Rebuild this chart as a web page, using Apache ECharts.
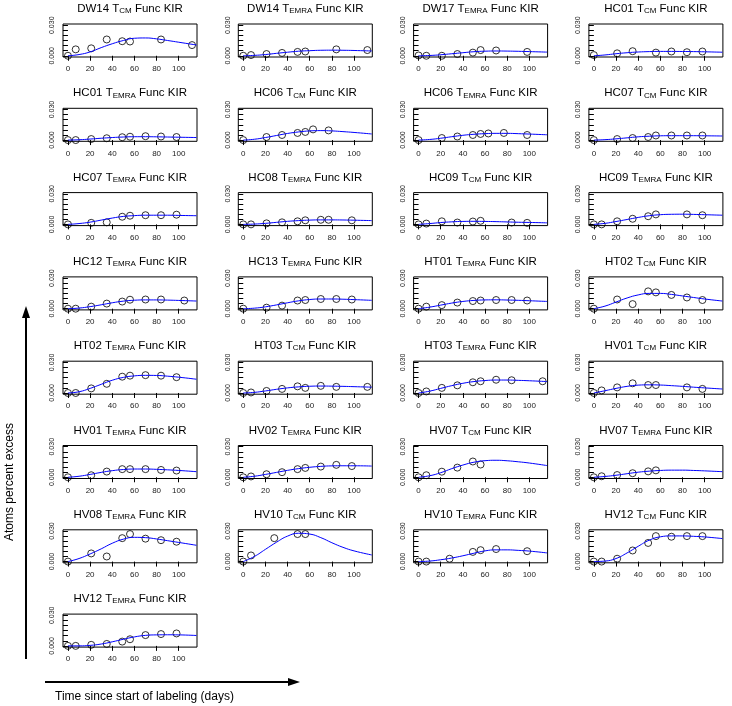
<!DOCTYPE html>
<html>
<head>
<meta charset="utf-8">
<script src="https://cdn.jsdelivr.net/npm/echarts@6/dist/echarts.min.js"></script>
<style>
  html, body { margin: 0; padding: 0; background: #fff; }
  #main { width: 732px; height: 706px; }
</style>
</head>
<body>
<div id="main"></div>
<script>
// panel labels, row by row
const donors = ['DW14', 'DW14', 'DW17', 'HC01', 'HC01', 'HC06', 'HC06', 'HC07',
  'HC07', 'HC08', 'HC09', 'HC09', 'HC12', 'HC13', 'HT01', 'HT02',
  'HT02', 'HT03', 'HT03', 'HV01', 'HV01', 'HV02', 'HV07', 'HV07',
  'HV08', 'HV10', 'HV10', 'HV12', 'HV12']
const subsets = ['CM', 'EMRA', 'EMRA', 'CM', 'EMRA', 'CM', 'EMRA', 'CM',
  'EMRA', 'EMRA', 'CM', 'EMRA', 'EMRA', 'EMRA', 'EMRA', 'CM',
  'EMRA', 'CM', 'EMRA', 'CM', 'EMRA', 'EMRA', 'CM', 'EMRA',
  'EMRA', 'CM', 'EMRA', 'CM', 'EMRA']

// measured points (days, atom percent excess)
const pointDays = [
  [0, 7, 21, 35, 49, 56, 84, 112],
  [0, 7, 21, 35, 49, 56, 84, 112],
  [0, 7, 21, 35, 49, 56, 70, 98],
  [0, 21, 35, 56, 70, 84, 98],
  [0, 7, 21, 35, 49, 56, 70, 84, 98],
  [0, 21, 35, 49, 56, 63, 77],
  [0, 21, 35, 49, 56, 63, 77, 98],
  [0, 21, 35, 49, 56, 70, 84, 98],
  [0, 21, 35, 49, 56, 70, 84, 98],
  [0, 7, 21, 35, 49, 56, 70, 77, 98],
  [0, 7, 21, 35, 49, 56, 84, 98],
  [0, 7, 21, 35, 49, 56, 84, 98],
  [0, 7, 21, 35, 49, 56, 70, 84, 105],
  [0, 21, 35, 49, 56, 70, 84, 98],
  [0, 7, 21, 35, 49, 56, 70, 84, 98],
  [0, 21, 35, 49, 56, 70, 84, 98],
  [0, 7, 21, 35, 49, 56, 70, 84, 98],
  [0, 7, 21, 35, 49, 56, 70, 84, 112],
  [0, 7, 21, 35, 49, 56, 70, 84, 112],
  [0, 7, 21, 35, 49, 56, 84, 98],
  [0, 21, 35, 49, 56, 70, 84, 98],
  [0, 7, 21, 35, 49, 56, 70, 84, 98],
  [0, 7, 21, 35, 49, 56],
  [0, 7, 21, 35, 49, 56],
  [0, 21, 35, 49, 56, 70, 84, 98],
  [0, 7, 28, 49, 56],
  [0, 7, 28, 49, 56, 70, 98],
  [0, 7, 21, 35, 49, 56, 70, 84, 98],
  [0, 7, 21, 35, 49, 56, 70, 84, 98]
]
const pointValues = [
  [0, 0.0063, 0.0073, 0.016, 0.0143, 0.014, 0.016, 0.0105],
  [0, 0.0007, 0.0017, 0.0028, 0.0038, 0.0042, 0.0063, 0.0056],
  [0.0003, 0, 0, 0.0017, 0.0031, 0.0056, 0.0052, 0.0038],
  [0.0007, 0.0024, 0.0045, 0.0031, 0.0042, 0.0035, 0.0042],
  [0, 0, 0.001, 0.0018, 0.0028, 0.0033, 0.0038, 0.0035, 0.003],
  [0, 0.003, 0.005, 0.007, 0.008, 0.0105, 0.0095],
  [0, 0.002, 0.0035, 0.005, 0.006, 0.0065, 0.007, 0.005],
  [0, 0.001, 0.002, 0.003, 0.0045, 0.0045, 0.0045, 0.0045],
  [0, 0.0015, 0.002, 0.0075, 0.0085, 0.009, 0.009, 0.0095],
  [0, 0, 0.001, 0.002, 0.003, 0.004, 0.0045, 0.0045, 0.004],
  [0, 0.0008, 0.003, 0.0018, 0.0028, 0.0035, 0.0018, 0.0015],
  [0, 0, 0.003, 0.0055, 0.008, 0.0098, 0.0098, 0.009],
  [0, 0, 0.002, 0.005, 0.007, 0.0088, 0.009, 0.009, 0.008],
  [0, 0.001, 0.003, 0.008, 0.0085, 0.0095, 0.0095, 0.009],
  [0, 0.002, 0.0035, 0.006, 0.0075, 0.008, 0.0085, 0.0085, 0.008],
  [0, 0.009, 0.0045, 0.017, 0.016, 0.0135, 0.011, 0.0085],
  [0, 0, 0.0045, 0.009, 0.016, 0.017, 0.0175, 0.017, 0.0155],
  [0, 0.0005, 0.002, 0.004, 0.0065, 0.005, 0.007, 0.006, 0.006],
  [0, 0.0015, 0.005, 0.0075, 0.0105, 0.0115, 0.013, 0.0125, 0.0115],
  [0, 0.0025, 0.0055, 0.0095, 0.0078, 0.0078, 0.0055, 0.004],
  [0, 0.002, 0.0056, 0.008, 0.008, 0.008, 0.0072, 0.0066],
  [0, 0.0008, 0.003, 0.005, 0.008, 0.0092, 0.0105, 0.0122, 0.011],
  [0, 0.002, 0.0055, 0.0095, 0.0155, 0.0125],
  [0, 0.001, 0.0022, 0.004, 0.0058, 0.0068],
  [0, 0.008, 0.005, 0.023, 0.027, 0.0225, 0.021, 0.0195],
  [0, 0.006, 0.023, 0.027, 0.027],
  [0, 0, 0.0028, 0.0095, 0.0112, 0.0123, 0.0102],
  [0, 0, 0.0028, 0.0109, 0.0183, 0.025, 0.0244, 0.025, 0.025],
  [0, 0, 0.001, 0.0019, 0.0042, 0.0065, 0.0106, 0.0116, 0.0122]
]

const fitDays = [0, 10, 20, 30, 40, 50, 60, 70, 80, 90, 100, 116]
const fitValues = [
  [0, 0.0012, 0.0038, 0.008, 0.0118, 0.015, 0.0172, 0.0175, 0.0166, 0.015, 0.0133, 0.0106],
  [0, 0.0004, 0.0012, 0.0024, 0.0035, 0.0045, 0.005, 0.0054, 0.0055, 0.0054, 0.0052, 0.0047],
  [0, 0.0003, 0.001, 0.002, 0.003, 0.004, 0.0045, 0.0047, 0.0046, 0.0044, 0.0041, 0.0036],
  [0, 0.0008, 0.002, 0.003, 0.0037, 0.0041, 0.0043, 0.0043, 0.0042, 0.0041, 0.0039, 0.0035],
  [0, 0.0003, 0.001, 0.0018, 0.0025, 0.003, 0.0033, 0.0033, 0.0032, 0.003, 0.0028, 0.0025],
  [0, 0.0008, 0.0025, 0.0045, 0.0065, 0.008, 0.009, 0.0093, 0.009, 0.0083, 0.0075, 0.006],
  [0, 0.0006, 0.0018, 0.0033, 0.0047, 0.0057, 0.0063, 0.0066, 0.0066, 0.0063, 0.0059, 0.0052],
  [0, 0.0004, 0.0012, 0.0022, 0.0032, 0.0038, 0.0042, 0.0043, 0.0043, 0.0043, 0.0042, 0.004],
  [0, 0.0008, 0.0022, 0.0042, 0.0062, 0.0078, 0.0086, 0.009, 0.009, 0.009, 0.0088, 0.0085],
  [0, 0.0003, 0.001, 0.002, 0.003, 0.0037, 0.0042, 0.0044, 0.0044, 0.0043, 0.0041, 0.0037],
  [0, 0.0008, 0.0018, 0.0025, 0.0029, 0.003, 0.0029, 0.0027, 0.0024, 0.0021, 0.0019, 0.0015],
  [0, 0.001, 0.0028, 0.0048, 0.0068, 0.0085, 0.0095, 0.0099, 0.01, 0.0098, 0.0095, 0.009],
  [0, 0.0006, 0.002, 0.0038, 0.0058, 0.0074, 0.0083, 0.0086, 0.0086, 0.0084, 0.0081, 0.0075],
  [0, 0.0005, 0.0018, 0.0037, 0.0058, 0.0077, 0.009, 0.0095, 0.0095, 0.0093, 0.0089, 0.0082],
  [0, 0.0015, 0.0035, 0.0055, 0.0071, 0.0081, 0.0086, 0.0087, 0.0085, 0.0082, 0.0078, 0.0071],
  [0, 0.0025, 0.0065, 0.0105, 0.0135, 0.015, 0.015, 0.014, 0.0125, 0.011, 0.0095, 0.0075],
  [0, 0.0012, 0.0045, 0.0085, 0.0125, 0.0153, 0.0168, 0.0173, 0.0172, 0.0165, 0.0155, 0.0135],
  [0, 0.0006, 0.002, 0.0036, 0.005, 0.006, 0.0066, 0.0068, 0.0067, 0.0065, 0.0062, 0.0057],
  [0, 0.0018, 0.0045, 0.0072, 0.0095, 0.0112, 0.0122, 0.0127, 0.0127, 0.0124, 0.012, 0.0112],
  [0, 0.0022, 0.0045, 0.0065, 0.0077, 0.008, 0.0078, 0.0072, 0.0065, 0.0057, 0.005, 0.0039],
  [0, 0.001, 0.0028, 0.0048, 0.0065, 0.0076, 0.0081, 0.0081, 0.0078, 0.0073, 0.0067, 0.0055],
  [0, 0.001, 0.0028, 0.0048, 0.0068, 0.0085, 0.0098, 0.0107, 0.0112, 0.0113, 0.0113, 0.011],
  [0, 0.0015, 0.0045, 0.0085, 0.012, 0.0148, 0.0163, 0.0167, 0.0162, 0.0152, 0.014, 0.0115],
  [0, 0.0008, 0.002, 0.0035, 0.005, 0.006, 0.0067, 0.007, 0.007, 0.0067, 0.0063, 0.0055],
  [0, 0.003, 0.0075, 0.0125, 0.018, 0.022, 0.0238, 0.0235, 0.0222, 0.0205, 0.0188, 0.016],
  [0, 0.005, 0.012, 0.019, 0.025, 0.0278, 0.027, 0.0235, 0.0185, 0.014, 0.0105, 0.0065],
  [0, 0.0005, 0.0018, 0.0035, 0.0057, 0.0082, 0.0105, 0.0115, 0.0115, 0.011, 0.0103, 0.0085],
  [0, 0.0005, 0.003, 0.0085, 0.015, 0.021, 0.0243, 0.0252, 0.0252, 0.0248, 0.0242, 0.0226],
  [0, 0, 0.0005, 0.0018, 0.004, 0.0065, 0.0088, 0.0103, 0.0108, 0.0109, 0.0108, 0.0102]
]

const xTicks = [0, 20, 40, 60, 80, 100]
const yTicks = [0, 0.005, 0.01, 0.015, 0.02, 0.025, 0.03]
const yLabels = [0, 0.03]

const FONT = 'Liberation Sans, Arial, sans-serif'
let chart = echarts.init(document.getElementById('main'))

let grid = [], xAxis = [], yAxis = [], series = [], graphic = []
donors.forEach((donor, i) => {
  let col = i % 4
  let row = Math.floor(i / 4)
  let left = 63 + col * 175.3
  let top = 24 + row * 84.3
  grid.push({
    left: left, top: top, width: 134, height: 33,
    show: true, borderColor: '#000', borderWidth: 1, backgroundColor: 'transparent'
  })
  xAxis.push({
    type: 'value', gridIndex: i, min: -4.48, max: 116.48,
    axisLine: { show: false },
    splitLine: { show: false },
    axisTick: { show: true, length: 5, customValues: xTicks, lineStyle: { color: '#000' } },
    axisLabel: { customValues: xTicks, fontSize: 8, color: '#222', margin: 8, fontFamily: FONT }
  })
  yAxis.push({
    type: 'value', gridIndex: i, min: -0.0012, max: 0.0312,
    axisLine: { show: false },
    splitLine: { show: false },
    axisTick: { show: true, length: 5, customValues: yTicks, lineStyle: { color: '#000' } },
    axisLabel: {
      customValues: yLabels, fontSize: 7, color: '#222', margin: 7, rotate: 90,
      fontFamily: FONT, formatter: v => v.toFixed(3)
    }
  })
  series.push({
    type: 'line', xAxisIndex: i, yAxisIndex: i, smooth: true, showSymbol: false,
    silent: true, lineStyle: { color: '#0000ff', width: 1 },
    data: fitDays.map((d, k) => [d, fitValues[i][k]])
  })
  series.push({
    type: 'scatter', xAxisIndex: i, yAxisIndex: i, symbol: 'circle', symbolSize: 7,
    silent: true, itemStyle: { color: 'rgba(0,0,0,0)', borderColor: '#000', borderWidth: 1 },
    data: pointDays[i].map((d, k) => [d, pointValues[i][k]])
  })
  graphic.push({
    type: 'text', x: left + 67, y: top - 15,
    style: {
      text: donor + ' T{s|' + subsets[i] + '} Func KIR',
      fontSize: 11.5, fontFamily: FONT, fill: '#000',
      textAlign: 'center', textVerticalAlign: 'middle',
      rich: { s: { fontSize: 8, fontFamily: FONT, fill: '#000', verticalAlign: 'bottom' } }
    }
  })
})

// outer axis arrows and their labels
graphic.push(
  { type: 'line', shape: { x1: 26, y1: 659, x2: 26, y2: 316 }, style: { stroke: '#000', lineWidth: 2 } },
  { type: 'polygon', shape: { points: [[26, 306], [22, 318], [30, 318]] }, style: { fill: '#000' } },
  { type: 'line', shape: { x1: 45, y1: 682, x2: 290, y2: 682 }, style: { stroke: '#000', lineWidth: 2 } },
  { type: 'polygon', shape: { points: [[300, 682], [288, 678], [288, 686]] }, style: { fill: '#000' } },
  {
    type: 'text', x: 10, y: 482, rotation: Math.PI / 2,
    style: { text: 'Atoms percent excess', fontSize: 12, fontFamily: FONT, fill: '#000', textAlign: 'center', textVerticalAlign: 'middle' }
  },
  {
    type: 'text', x: 55, y: 697,
    style: { text: 'Time since start of labeling (days)', fontSize: 12, fontFamily: FONT, fill: '#000', textAlign: 'left', textVerticalAlign: 'middle' }
  }
)

chart.setOption({
  animation: false,
  backgroundColor: '#fff',
  grid: grid,
  xAxis: xAxis,
  yAxis: yAxis,
  series: series,
  graphic: graphic
})
</script>
</body>
</html>
